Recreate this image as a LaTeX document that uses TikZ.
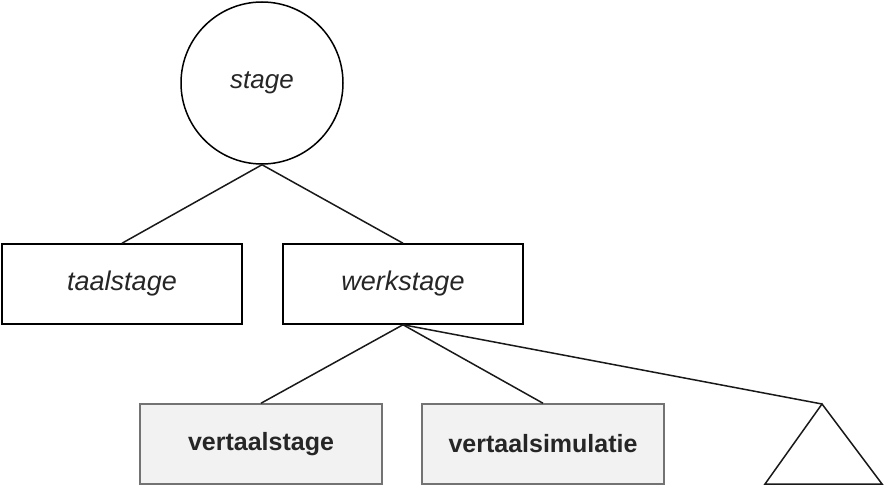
\documentclass[tikz,border=0pt]{standalone}
\usepackage{fontspec}
\setmainfont{Liberation Sans}
\begin{document}
\begin{tikzpicture}[x=1pt,y=-1pt,
  txt/.style={font=\fontsize{25}{30}\selectfont, text=black!85},
  topbox/.style={txt, draw=black, line width=1.5pt, minimum width=240pt, minimum height=80pt, inner sep=0pt, font=\fontsize{27}{32}\selectfont\itshape},
  lowbox/.style={txt, draw=black!55, fill=black!5, line width=1.5pt, minimum width=242pt, minimum height=80pt, inner sep=0pt, font=\fontsize{25}{30}\selectfont\bfseries},
  edge/.style={line width=1.5pt, draw=black!90}]
\useasboundingbox (0,0) rectangle (885,486);
\node[draw=black, line width=1.5pt, circle, minimum size=162pt, inner sep=0pt, txt, font=\fontsize{26}{31}\selectfont\itshape] (stage) at (262,83) {stage};
\node[topbox] (taal) at (122,284) {taalstage};
\node[topbox] (werk) at (403,284) {werkstage};
\node[lowbox] (vs) at (261,444) {vertaalstage};
\node[lowbox] (vsim) at (543,444) {vertaalsimulatie};
\coordinate (tri) at (822,404);
\coordinate (tril) at (765,484);
\coordinate (trir) at (882,484);
\draw[edge] (tri) -- (tril) -- (trir) -- cycle;
\draw[edge] (stage.south) -- (taal.north);
\draw[edge] (stage.south) -- (werk.north);
\draw[edge] (werk.south) -- (vs.north);
\draw[edge] (werk.south) -- (vsim.north);
\draw[edge] (werk.south) -- (tri);
\end{tikzpicture}
\end{document}
